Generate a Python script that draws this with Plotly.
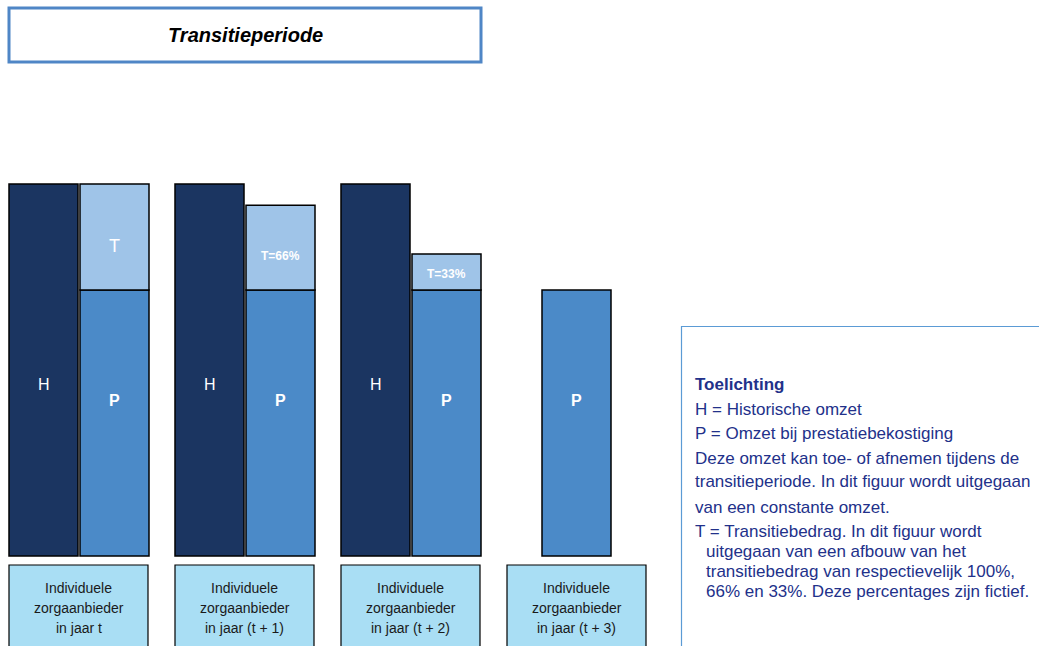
import plotly.graph_objects as go

# ---- data ----
group_lines = [["Individuele", "zorgaanbieder", "in jaar t"],
               ["Individuele", "zorgaanbieder", "in jaar (t + 1)"],
               ["Individuele", "zorgaanbieder", "in jaar (t + 2)"],
               ["Individuele", "zorgaanbieder", "in jaar (t + 3)"]]
H_values = [100, 100, 100, None]        # Historische omzet
P_values = [71.5, 71.5, 71.5, 71.5]     # Omzet bij prestatiebekostiging
T_values = [28.5, 22.8, 9.7, None]      # Transitiebedrag
T_labels = ["T", "T=66%", "T=33%", ""]

W, Hh = 1039, 646
C_H, C_P, C_T, C_LAB = "#1B3561", "#4B8AC8", "#9FC4E8", "#A9DEF4"
FONT = "Liberation Sans, Arial, sans-serif"

# layout geometry (pixels)
g0, gstep = 78.5, 166
bw = 69
offH, offP = -35, 36
y_base_px, px_per_unit = 556, 3.72
T_label_px = [246, 256, 274, None]

centers = [g0 + i * gstep for i in range(len(group_lines))]
xH = [c + offH for c, h in zip(centers, H_values) if h is not None]
yH = [h for h in H_values if h is not None]
xP = [(c + offP) if h is not None else c for c, h in zip(centers, H_values)]
xT = [x for x, t in zip(xP, T_values) if t is not None]
yT = [t for t in T_values if t is not None]
bT = [p for p, t in zip(P_values, T_values) if t is not None]

line = dict(color="black", width=1.5)
fig = go.Figure()
fig.add_trace(go.Bar(x=xH, y=yH, width=bw, marker=dict(color=C_H, line=line), hoverinfo="skip"))
fig.add_trace(go.Bar(x=xP, y=P_values, width=bw, marker=dict(color=C_P, line=line), hoverinfo="skip"))
fig.add_trace(go.Bar(x=xT, y=yT, base=bT, width=bw, marker=dict(color=C_T, line=line), hoverinfo="skip"))

ymin = -(Hh - y_base_px) / px_per_unit
ymax = y_base_px / px_per_unit

def py(p):  # pixel y -> paper
    return 1 - p / Hh

ann = []
shapes = []

def A(text, x, y, size, color, xanchor="center", xref="x", yref="paper"):
    ann.append(dict(x=x, y=y, xref=xref, yref=yref, text=text, showarrow=False,
                    xanchor=xanchor, yanchor="middle",
                    font=dict(family=FONT, size=size, color=color)))

for i, c in enumerate(centers):
    if H_values[i] is not None:
        A("H", c + offH, py(384), 16, "white")
    A("<b>P</b>", xP[i], py(400), 16, "white")
    if T_labels[i]:
        big = T_labels[i] == "T"
        A(T_labels[i] if big else "<b>%s</b>" % T_labels[i], xP[i], py(T_label_px[i]),
          18 if big else 12, "white")
    # category label boxes
    shapes.append(dict(type="rect", xref="x", yref="paper", x0=c - 69.5, x1=c + 69.5,
                       y0=py(660), y1=py(565), fillcolor=C_LAB, line=dict(color="black", width=1.2), layer="below"))
    for k, t in enumerate(group_lines[i]):
        A(t, c, py(588 + 20 * k), 14, "#1a1a1a")

# title box
shapes.append(dict(type="rect", xref="x", yref="paper", x0=9, x1=481, y0=py(62), y1=py(8),
                   fillcolor="white", line=dict(color="#4F86C6", width=3)))
A("<b><i>Transitieperiode</i></b>", 245, py(35), 20, "black")

# explanation box
shapes.append(dict(type="rect", xref="x", yref="paper", x0=681.5, x1=1045, y0=py(660), y1=py(326.5),
                   fillcolor="white", line=dict(color="#5B9BD5", width=1.2), layer="below"))
TXT = "#22318A"
lines = [
    ("<b>Toelichting</b>", 693, 384),
    ("H = Historische omzet", 693, 409),
    ("P = Omzet bij prestatiebekostiging", 693, 433),
    ("Deze omzet kan toe- of afnemen tijdens de", 693, 458),
    ("transitieperiode. In dit figuur wordt uitgegaan", 693, 482),
    ("van een constante omzet.", 693, 507),
    ("T = Transitiebedrag. In dit figuur wordt", 693, 531),
    ("uitgegaan van een afbouw van het", 704, 551),
    ("transitiebedrag van respectievelijk 100%,", 704, 571),
    ("66% en 33%. Deze percentages zijn fictief.", 704, 591),
]
for t, x, y in lines:
    A(t, x, py(y), 17, TXT, xanchor="left")

fig.update_layout(
    width=W, height=Hh, margin=dict(l=0, r=0, t=0, b=0),
    paper_bgcolor="white", plot_bgcolor="white",
    barmode="overlay", showlegend=False,
    xaxis=dict(range=[0, W], visible=False, fixedrange=True),
    yaxis=dict(range=[ymin, ymax], visible=False, fixedrange=True),
    annotations=ann, shapes=shapes,
)
fig.write_html("out.html", config={"displayModeBar": False},
               post_script="document.body.style.margin='0';document.body.style.overflow='hidden';")
